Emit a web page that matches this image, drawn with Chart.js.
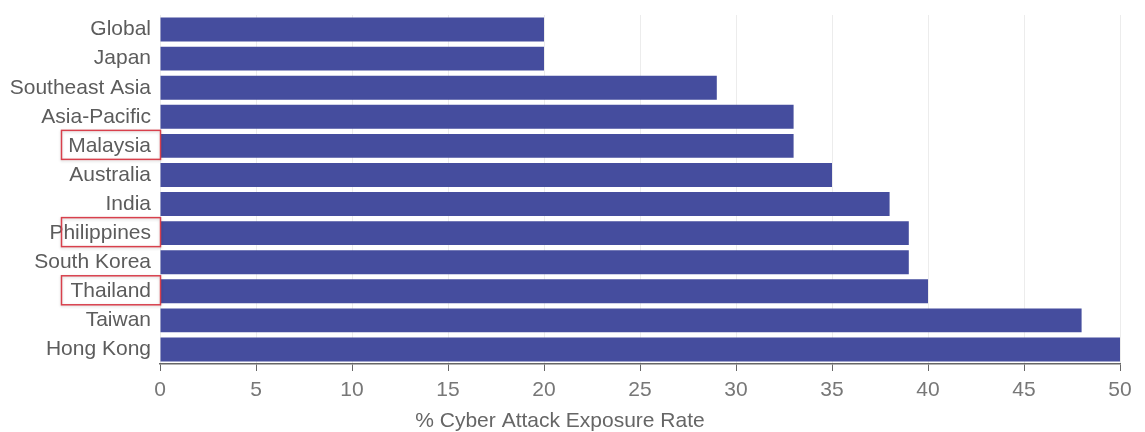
<!DOCTYPE html>
<html>
<head>
<meta charset="utf-8">
<script src="https://cdn.jsdelivr.net/npm/chart.js@4"></script>
<style>
  html, body { margin: 0; padding: 0; background: #fff; }
  #wrap { width: 1145px; height: 432px; }
</style>
</head>
<body>
<div id="wrap"><canvas id="grafico"></canvas></div>
<script>
const paises = ['Global', 'Japan', 'Southeast Asia', 'Asia-Pacific', 'Malaysia', 'Australia', 'India', 'Philippines', 'South Korea', 'Thailand', 'Taiwan', 'Hong Kong']
const taxas = [20, 20, 29, 33, 33, 35, 38, 39, 39, 40, 48, 50]
const destacados = ['Malaysia', 'Philippines', 'Thailand']
const tituloEixo = '% Cyber Attack Exposure Rate'

// red boxes drawn around some of the y labels
const caixasPlugin = {
  id: 'caixas',
  afterDraw(chart) {
    const ctx = chart.ctx
    const y = chart.scales.y
    ctx.save()
    ctx.strokeStyle = '#d8404c'
    ctx.lineWidth = 1.5
    ctx.shadowColor = 'rgba(0,0,0,0.18)'
    ctx.shadowBlur = 3
    ctx.shadowOffsetY = 1
    destacados.forEach(nome => {
      const meio = y.getPixelForValue(paises.indexOf(nome)) - 1
      ctx.strokeRect(61.5, meio - 14.5, 99, 29)
    })
    ctx.restore()
  }
}

const ctxGrafico = document.getElementById('grafico')

new Chart(ctxGrafico, {
  type: 'bar',
  data: {
    labels: paises,
    datasets: [{
      data: taxas,
      backgroundColor: '#454d9e',
      borderWidth: 0,
      barPercentage: 0.82,
      categoryPercentage: 1
    }]
  },
  options: {
    indexAxis: 'y',
    responsive: true,
    maintainAspectRatio: false,
    animation: false,
    layout: { padding: { top: 15, right: 25, left: 0, bottom: 0 } },
    plugins: {
      legend: { display: false },
      tooltip: { enabled: false },
      title: {
        display: true,
        position: 'bottom',
        text: tituloEixo,
        color: '#666',
        font: { family: 'Liberation Sans', size: 21, weight: 'normal', lineHeight: 1 },
        padding: 0
      }
    },
    scales: {
      x: {
        min: 0,
        max: 50,
        ticks: {
          stepSize: 5,
          color: '#777',
          padding: 7,
          maxRotation: 0,
          font: { family: 'Liberation Sans', size: 21 }
        },
        grid: {
          color: '#ececec',
          tickColor: '#666',
          tickLength: 7,
          lineWidth: 1
        },
        border: { color: '#666', width: 1.5 },
        afterFit(scale) { scale.height = 47 }
      },
      y: {
        ticks: {
          color: '#5c5c5c',
          padding: 9,
          font: { family: 'Liberation Sans', size: 21 }
        },
        grid: { display: false, drawTicks: false },
        border: { display: false },
        afterFit(scale) {
          scale.width = 160
          scale.paddingTop = 0
          scale.paddingBottom = 0
        }
      }
    }
  },
  plugins: [caixasPlugin]
})
</script>
</body>
</html>
